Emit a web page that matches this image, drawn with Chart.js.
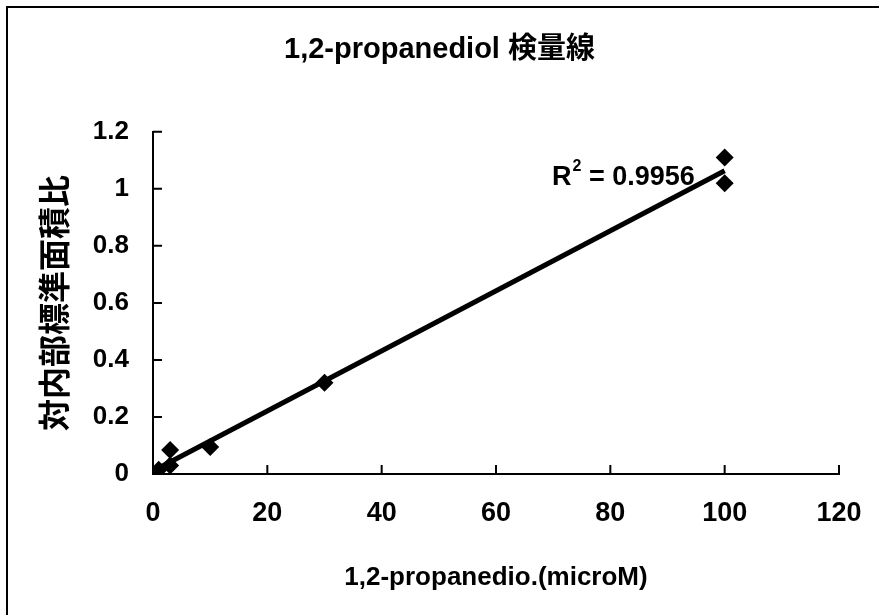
<!DOCTYPE html>
<html>
<head>
<meta charset="utf-8">
<script src="https://cdn.jsdelivr.net/npm/chart.js@4/dist/chart.umd.min.js"></script>
<style>
  body { margin: 0; background: #fff; }
  canvas { display: block; }
</style>
</head>
<body>
<canvas id="chrt" width="879" height="615"></canvas>
<script>
// calibration points
let conc = [1, 3, 3, 10, 30, 100, 100];
let ratio = [0.015, 0.03, 0.084, 0.095, 0.32, 1.11, 1.02];
let xTicks = [0, 20, 40, 60, 80, 100, 120];
let yTicks = [0, 0.2, 0.4, 0.6, 0.8, 1, 1.2];
let r2Text = "0.9956";

// least squares line through the points
function fitLine(xs, ys) {
    let n = xs.length, sx = 0, sy = 0, sxx = 0, sxy = 0;
    for (let i = 0; i < n; i++) {
        sx += xs[i]; sy += ys[i];
        sxx += xs[i] * xs[i]; sxy += xs[i] * ys[i];
    }
    let slope = (n * sxy - sx * sy) / (n * sxx - sx * sx);
    let icpt = (sy - slope * sx) / n;
    return { slope: slope, icpt: icpt };
}
let fit = fitLine(conc, ratio);
let xMin = Math.min.apply(null, conc), xMax = Math.max.apply(null, conc);
let trend = [
    { x: xMin, y: fit.icpt + fit.slope * xMin },
    { x: xMax, y: fit.icpt + fit.slope * xMax }
];

let fam = "'Liberation Sans', 'Noto Sans CJK JP', sans-serif";
Chart.defaults.font.family = fam;
Chart.defaults.color = '#000';

// frame on the left and top, inward tick marks, R^2 label
let extras = {
    id: 'extras',
    beforeDraw(chart) {
        let c = chart.ctx;
        c.save();
        c.fillStyle = '#fff';
        c.fillRect(0, 0, chart.width, chart.height);
        c.strokeStyle = '#000';
        c.lineWidth = 2;
        c.beginPath();
        c.moveTo(7, chart.height);
        c.lineTo(7, 7);
        c.lineTo(chart.width, 7);
        c.stroke();
        c.restore();
    },
    afterDatasetsDraw(chart) {
        let c = chart.ctx, xs = chart.scales.x, ys = chart.scales.y;
        c.save();
        c.strokeStyle = '#000';
        c.lineWidth = 2;
        c.beginPath();
        xTicks.forEach(function(v) {
            let px = xs.getPixelForValue(v);
            c.moveTo(px, ys.bottom);
            c.lineTo(px, ys.bottom - 9);
        });
        yTicks.forEach(function(v) {
            let py = ys.getPixelForValue(v);
            c.moveTo(xs.left, py);
            c.lineTo(xs.left + 9, py);
        });
        c.stroke();

        let tx = xs.getPixelForValue(69.8), ty = ys.getPixelForValue(1.04);
        c.fillStyle = '#000';
        c.textBaseline = 'middle';
        c.font = 'bold 27px ' + fam;
        c.fillText('R', tx, ty);
        let w = c.measureText('R').width;
        c.font = 'bold 16px ' + fam;
        c.fillText('2', tx + w + 1, ty - 11);
        c.font = 'bold 27px ' + fam;
        c.fillText(' = ' + r2Text, tx + w + 10, ty);
        c.restore();
    }
};

new Chart(document.getElementById('chrt').getContext('2d'), {
    type: 'scatter',
    data: {
        datasets: [
            {
                label: 'data',
                data: conc.map(function(x, i) { return { x: x, y: ratio[i] }; }),
                pointStyle: 'rectRot',
                pointRadius: 9,
                backgroundColor: '#000',
                borderColor: '#000',
                borderWidth: 0,
                order: 1
            },
            {
                label: 'trend',
                type: 'line',
                data: trend,
                borderColor: '#000',
                borderWidth: 5,
                pointRadius: 0,
                fill: false,
                order: 2
            }
        ]
    },
    options: {
        responsive: false,
        animation: false,
        layout: { padding: 0 },
        plugins: {
            legend: { display: false },
            tooltip: { enabled: false },
            title: {
                display: true,
                text: '1,2-propanediol 検量線',
                font: { size: 29, weight: 'bold' },
                padding: { top: 33, bottom: 64 }
            }
        },
        scales: {
            x: {
                type: 'linear',
                min: 0,
                max: 120,
                afterFit: function(s) { s.height = 141; s.paddingRight = 40; },
                afterBuildTicks: function(s) { s.ticks = xTicks.map(function(v) { return { value: v }; }); },
                grid: { display: false },
                border: { display: true, color: '#000', width: 2 },
                ticks: { font: { size: 27, weight: 'bold' }, padding: 15, maxRotation: 0 },
                title: {
                    display: true,
                    text: '1,2-propanedio.(microM)',
                    font: { size: 26, weight: 'bold' },
                    padding: { top: 0, bottom: 22 }
                }
            },
            y: {
                type: 'linear',
                min: 0,
                max: 1.2,
                afterFit: function(s) { s.width = 153; },
                afterBuildTicks: function(s) { s.ticks = yTicks.map(function(v) { return { value: v }; }); },
                grid: { display: false },
                border: { display: true, color: '#000', width: 2 },
                ticks: {
                    font: { size: 26, weight: 'bold' },
                    padding: 16,
                    callback: function(v) { return String(Math.round(v * 10) / 10); }
                },
                title: {
                    display: true,
                    text: '対内部標準面積比',
                    font: { size: 32, weight: 'bold' },
                    padding: { top: 38, bottom: 0 }
                }
            }
        }
    },
    plugins: [extras]
});
</script>
</body>
</html>
